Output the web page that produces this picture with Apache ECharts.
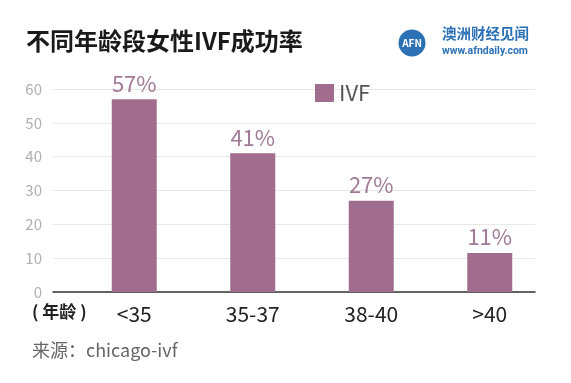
<!DOCTYPE html>
<html>
<head>
<meta charset="utf-8">
<script src="https://cdn.jsdelivr.net/npm/echarts@6/dist/echarts.min.js"></script>
<style>html,body{margin:0;padding:0;background:#fff;}#c{width:571px;height:383px;}</style>
</head>
<body>
<div id="c"></div>
<script>
var categories = ['<35', '35-37', '38-40', '>40'];
var ivfValues = [57, 41, 27, 11.5];
var valueLabels = ['57%', '41%', '27%', '11%'];
var yTicks = [0, 10, 20, 30, 40, 50, 60];
var seriesName = 'IVF';
var titleText = '不同年龄段女性IVF成功率';
var sourceText = '来源：chicago-ivf';
var axisUnitText = '( 年龄 )';

var barColor = '#a06d8e';
var font = '"Noto Sans CJK SC", "Noto Sans", sans-serif';

var chart = echarts.init(document.getElementById('c'));
chart.setOption({
  animation: false,
  backgroundColor: '#ffffff',
  textStyle: { fontFamily: font },
  legend: {
    data: [seriesName],
    left: 310, top: 77,
    itemWidth: 19, itemHeight: 18, itemGap: 10,
    icon: 'rect',
    textStyle: { fontSize: 22, color: '#555', fontFamily: font }
  },
  grid: [
    { left: 53, right: 36, top: 89, bottom: 91 },
    { left: 75, width: 474, top: 89, bottom: 91 }
  ],
  xAxis: [
    { gridIndex: 0, type: 'category', data: categories, axisLine: { lineStyle: { color: '#333', width: 1.5 } },
      axisTick: { show: false }, axisLabel: { show: false }, splitLine: { show: false } },
    { gridIndex: 1, type: 'category', data: categories, axisLine: { show: false }, axisTick: { show: false },
      axisLabel: { margin: 12, fontSize: 21, color: '#222', fontFamily: font } }
  ],
  yAxis: [
    { gridIndex: 0, type: 'value', min: 0, max: 60, interval: 10, axisLine: { show: false }, axisTick: { show: false },
      axisLabel: { margin: 11, fontSize: 15, color: '#b0b0b0', fontFamily: font,
        formatter: function (v) { return yTicks.indexOf(v) >= 0 ? String(v) : ''; } },
      splitLine: { lineStyle: { color: '#e8e8e8', width: 1 } } },
    { gridIndex: 1, type: 'value', min: 0, max: 60, interval: 10, show: false, splitLine: { show: false } }
  ],
  series: [{
    name: seriesName,
    type: 'bar',
    xAxisIndex: 1, yAxisIndex: 1,
    data: ivfValues,
    barWidth: 45,
    itemStyle: { color: barColor },
    label: {
      show: true, position: 'top', distance: 5,
      fontSize: 22, color: '#a17b96', fontFamily: font,
      formatter: function (p) { return valueLabels[p.dataIndex]; }
    }
  }],
  graphic: [
    { type: 'text', left: 26, top: 29, style: { text: titleText, fontSize: 24, fontWeight: 'bold', fill: '#1a1a1a', fontFamily: font } },
    { type: 'text', left: 32, top: 303, style: { text: axisUnitText, fontSize: 17, fontWeight: 'bold', fill: '#222', fontFamily: font } },
    { type: 'text', left: 32, top: 341, style: { text: sourceText, fontSize: 18, fill: '#666', fontFamily: font } },
    { type: 'circle', shape: { cx: 412, cy: 43, r: 13.5 }, style: { fill: '#2c71b6' } },
    { type: 'text', x: 412, y: 43, style: { text: 'AFN', fontSize: 10, fontWeight: 'bold', fill: '#fff', align: 'center', verticalAlign: 'middle', fontFamily: font } },
    { type: 'text', left: 442, top: 26, style: { text: '澳洲财经见闻', fontSize: 14.5, fontWeight: 'bold', fill: '#2c71b6', fontFamily: font } },
    { type: 'text', left: 442, top: 46, style: { text: 'www.afndaily.com', fontSize: 10.5, fontWeight: 'bold', fill: '#2c71b6', fontFamily: 'Roboto, sans-serif' } }
  ]
});
</script>
</body>
</html>
